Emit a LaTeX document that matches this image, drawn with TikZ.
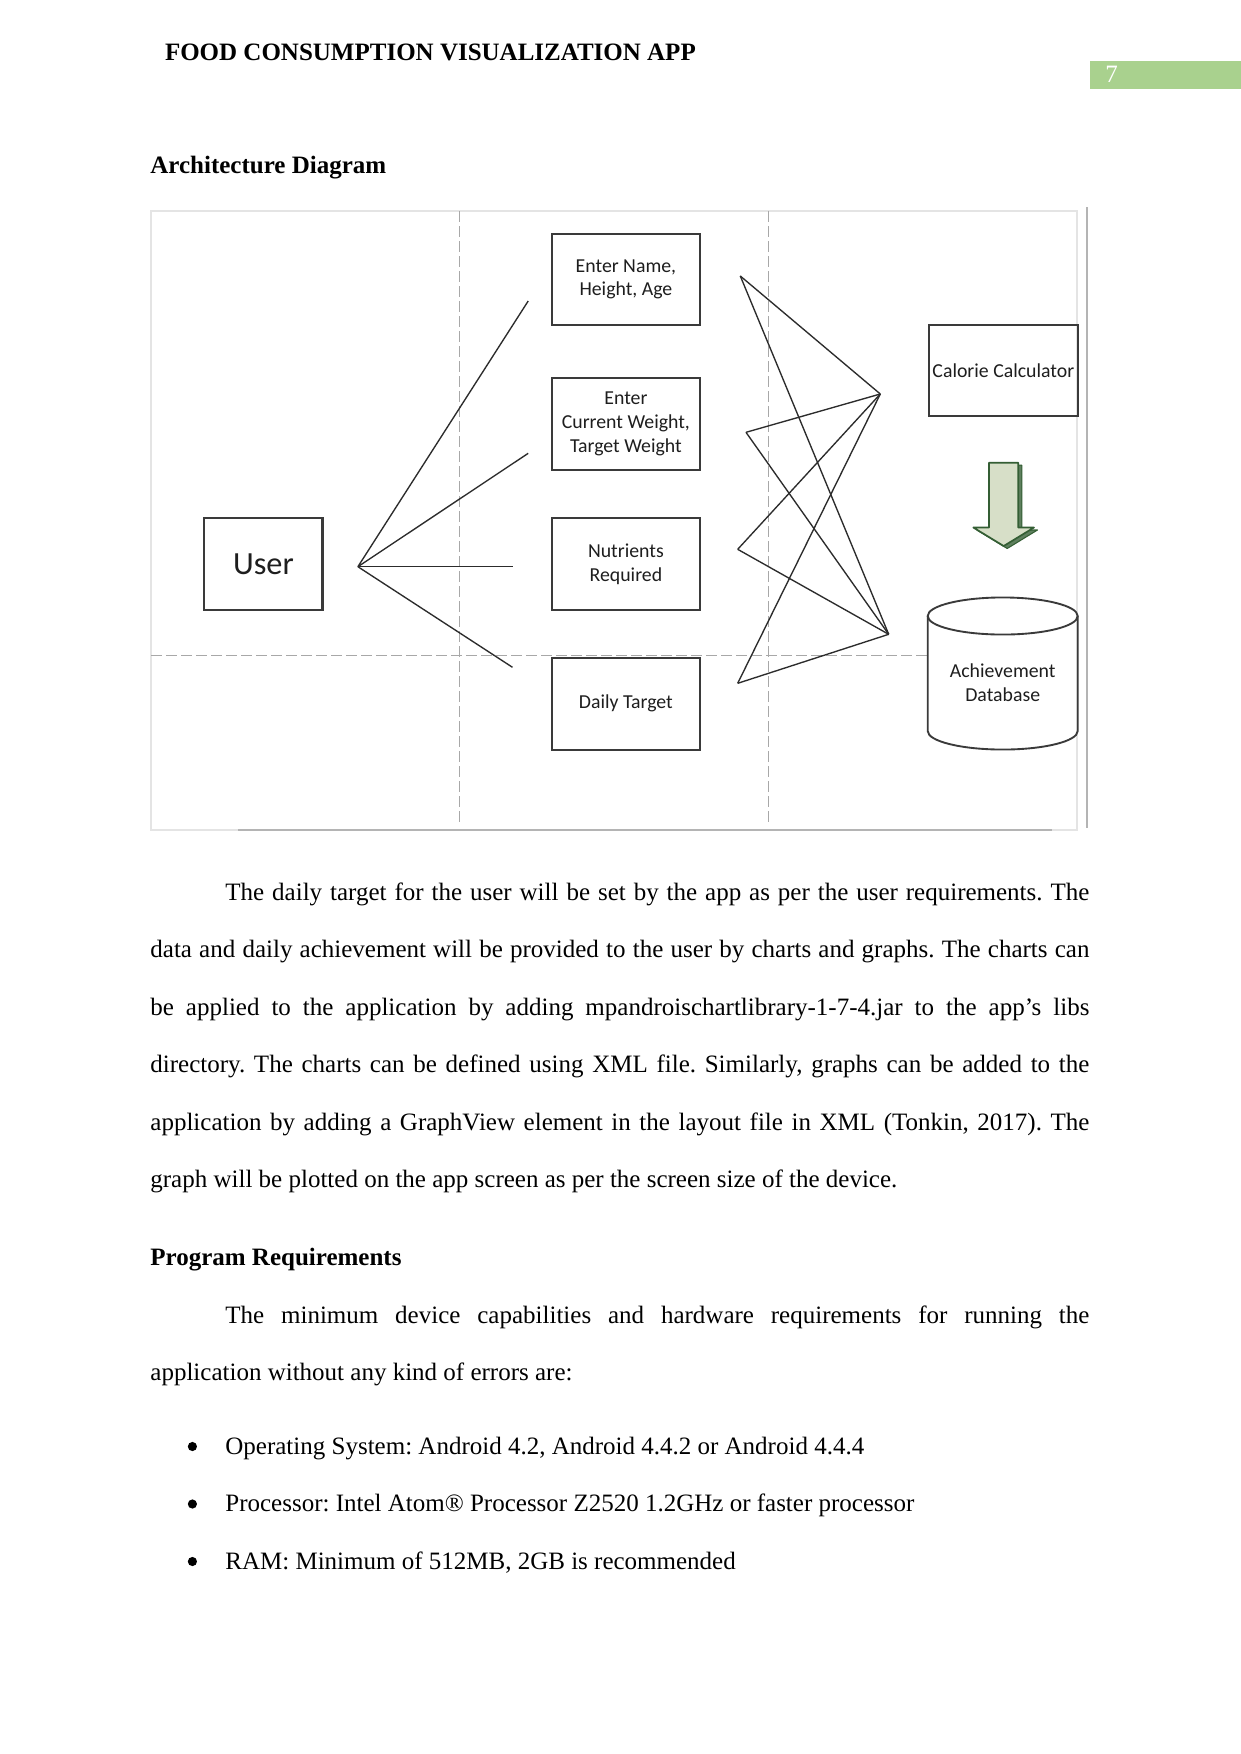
\documentclass[tikz,border=0pt]{standalone}
\usepackage{fontspec}
\setmainfont{Liberation Serif}
\newfontfamily\calfont{Carlito}
\frenchspacing
\definecolor{boxline}{HTML}{3A3A3A}
\definecolor{connline}{HTML}{2C2C2C}
\definecolor{diagtext}{HTML}{1E1E1E}
\definecolor{gridgray}{HTML}{A8A8A8}
\definecolor{framelight}{HTML}{E4E4E4}
\definecolor{framedark}{HTML}{B4B4B4}
\definecolor{pagegreen}{HTML}{A9D18E}
\definecolor{arrowfront}{HTML}{D7DFC8}
\definecolor{arrowedge}{HTML}{345E34}
\definecolor{arrowside}{HTML}{5E805E}
\begin{document}
\begin{tikzpicture}[x=0.48pt,y=-0.48pt,
  box/.style={draw=boxline, line width=1pt, minimum width=71.1pt, minimum height=44.2pt,
    inner sep=0pt, align=center, text=diagtext, font=\calfont\fontsize{9.5}{11.5}\selectfont},
  conn/.style={draw=connline, line width=0.65pt},
  gridline/.style={draw=gridgray, line width=0.6pt, dash pattern=on 5.2pt off 2pt},
  bodytext/.style={anchor=base west, inner sep=0pt, font=\frenchspacing\fontsize{12}{14}\selectfont},
  headtext/.style={anchor=base west, inner sep=0pt, font=\bfseries\fontsize{12}{14}\selectfont},
  bulletdot/.style={circle, fill=black, inner sep=0pt, minimum size=4.4pt}]
\useasboundingbox (0,0) rectangle (1241,1754);
\fill[white] (0,0) rectangle (1241,1754);

% header
\fill[pagegreen] (1090,61) rectangle (1241,89);
\node (pnum) [anchor=base west, inner sep=0pt, text=white, font=\fontsize{12}{14}\selectfont] at (1105,82) {7};
\node (hdr) [headtext] at (164.6,60) {FOOD CONSUMPTION VISUALIZATION APP};
\node (sec1) [headtext] at (150,173.3) {Architecture Diagram};

% frame of the figure
\draw[framelight, line width=0.7pt] (151,211) rectangle (1077,830);
\draw[framedark, line width=1pt] (238,830) -- (1052,830);
\draw[framedark, line width=1pt] (1087,207) -- (1087,828);

% dashed grid
\draw[gridline] (459.6,211) -- (459.6,822.7);
\draw[gridline] (768.7,211) -- (768.7,822.7);
\draw[gridline] (151,655.7) -- (927.7,655.7);

% boxes
\node[box, minimum width=56.7pt, minimum height=44.3pt, font=\calfont\fontsize{15.5}{18}\selectfont] (user) at (263.4,563.9) {User};
\node[box, minimum height=43.5pt] (b1) at (625.9,279.35) {Enter Name,\\Height, Age};
\node[box] (b2) at (625.9,424) {Enter\\Current Weight,\\Target Weight};
\node[box] (b3) at (625.9,563.85) {Nutrients\\Required};
\node[box] (b4) at (625.9,703.7) {Daily Target};
\node[box, minimum width=71.4pt, minimum height=43.7pt] (calorie) at (1003.35,370.2) {Calorie Calculator};

% database cylinder
\draw[boxline, line width=0.9pt] (1002.7,616) ellipse [x radius=36pt, y radius=8.9pt];
\draw[boxline, line width=0.9pt] (927.7,616) -- (927.7,731)
   arc[start angle=180, end angle=360, x radius=36pt, y radius=8.9pt] -- (1077.7,616);
\node (db) [inner sep=0pt, align=center, text=diagtext, font=\calfont\fontsize{9.5}{11.5}\selectfont] at (1002.7,682.5) {Achievement\\Database};

% 3D block arrow
\fill[arrowside, draw=arrowedge, line width=0.5pt, line join=round]
  (992.5,465.2) -- (1021.8,465.2) -- (1021.8,530) -- (1037.5,530) -- (1007.2,548.5)
  -- (976.8,530) -- (992.5,530) -- cycle;
\fill[arrowfront, draw=arrowedge, line width=0.8pt, line join=round]
  (989,462.7) -- (1018.3,462.7) -- (1018.3,527.5) -- (1034,527.5) -- (1003.7,546)
  -- (973.3,527.5) -- (989,527.5) -- cycle;

% fan from user
\coordinate (fan) at (357.9,566.7);
\coordinate (f1) at (528.2,301);
\coordinate (f2) at (528.2,453.3);
\coordinate (f3) at (512.5,566.7);
\coordinate (f4) at (512.5,667.3);
\draw[conn] (fan) -- (f1);
\draw[conn] (fan) -- (f2);
\draw[conn] (fan) -- (f3);
\draw[conn] (fan) -- (f4);

% crossing connectors
\coordinate (pa) at (740.3,276);
\coordinate (pc) at (746,432.3);
\coordinate (pd) at (737.7,549.3);
\coordinate (pf) at (737.7,683.3);
\coordinate (pb) at (880.3,394);
\coordinate (pe) at (888.7,634.3);
\draw[conn] (pa) -- (pb);
\draw[conn] (pa) -- (pe);
\draw[conn] (pc) -- (pb);
\draw[conn] (pc) -- (pe);
\draw[conn] (pd) -- (pb);
\draw[conn] (pd) -- (pe);
\draw[conn] (pf) -- (pb);
\draw[conn] (pf) -- (pe);

% body text
\node (l1) [bodytext] at (225,900) {\makebox[414.7pt][s]{The daily target for the user will be set by the app as per the user requirements. The}};
\node (l2) [bodytext] at (150,957.5) {\makebox[450.7pt][s]{data and daily achievement will be provided to the user by charts and graphs. The charts can}};
\node (l3) [bodytext] at (150,1015) {\makebox[450.7pt][s]{be applied to the application by adding mpandroischartlibrary-1-7-4.jar to the app’s libs}};
\node (l4) [bodytext] at (150,1072.5) {\makebox[450.7pt][s]{directory. The charts can be defined using XML file. Similarly, graphs can be added to the}};
\node (l5) [bodytext] at (150,1130) {\makebox[450.7pt][s]{application by adding a GraphView element in the layout file in XML (Tonkin, 2017). The}};
\node (l6) [bodytext] at (150,1187.5) {graph will be plotted on the app screen as per the screen size of the device.};

\node (sec2) [headtext] at (150,1265) {Program Requirements};
\node (m1) [bodytext] at (225,1323) {\makebox[414.7pt][s]{The minimum device capabilities and hardware requirements for running the}};
\node (m2) [bodytext] at (150,1380.5) {application without any kind of errors are:};

\node (bu1) [bulletdot] at (192.4,1446.5) {};
\node (bt1) [bodytext] at (225,1454) {Operating System: Android 4.2, Android 4.4.2 or Android 4.4.4};
\node (bu2) [bulletdot] at (192.4,1504) {};
\node (bt2) [bodytext] at (225,1511.5) {Processor: Intel Atom® Processor Z2520 1.2GHz or faster processor};
\node (bu3) [bulletdot] at (192.4,1561.5) {};
\node (bt3) [bodytext] at (225,1569) {RAM: Minimum of 512MB, 2GB is recommended};
\end{tikzpicture}
\end{document}
